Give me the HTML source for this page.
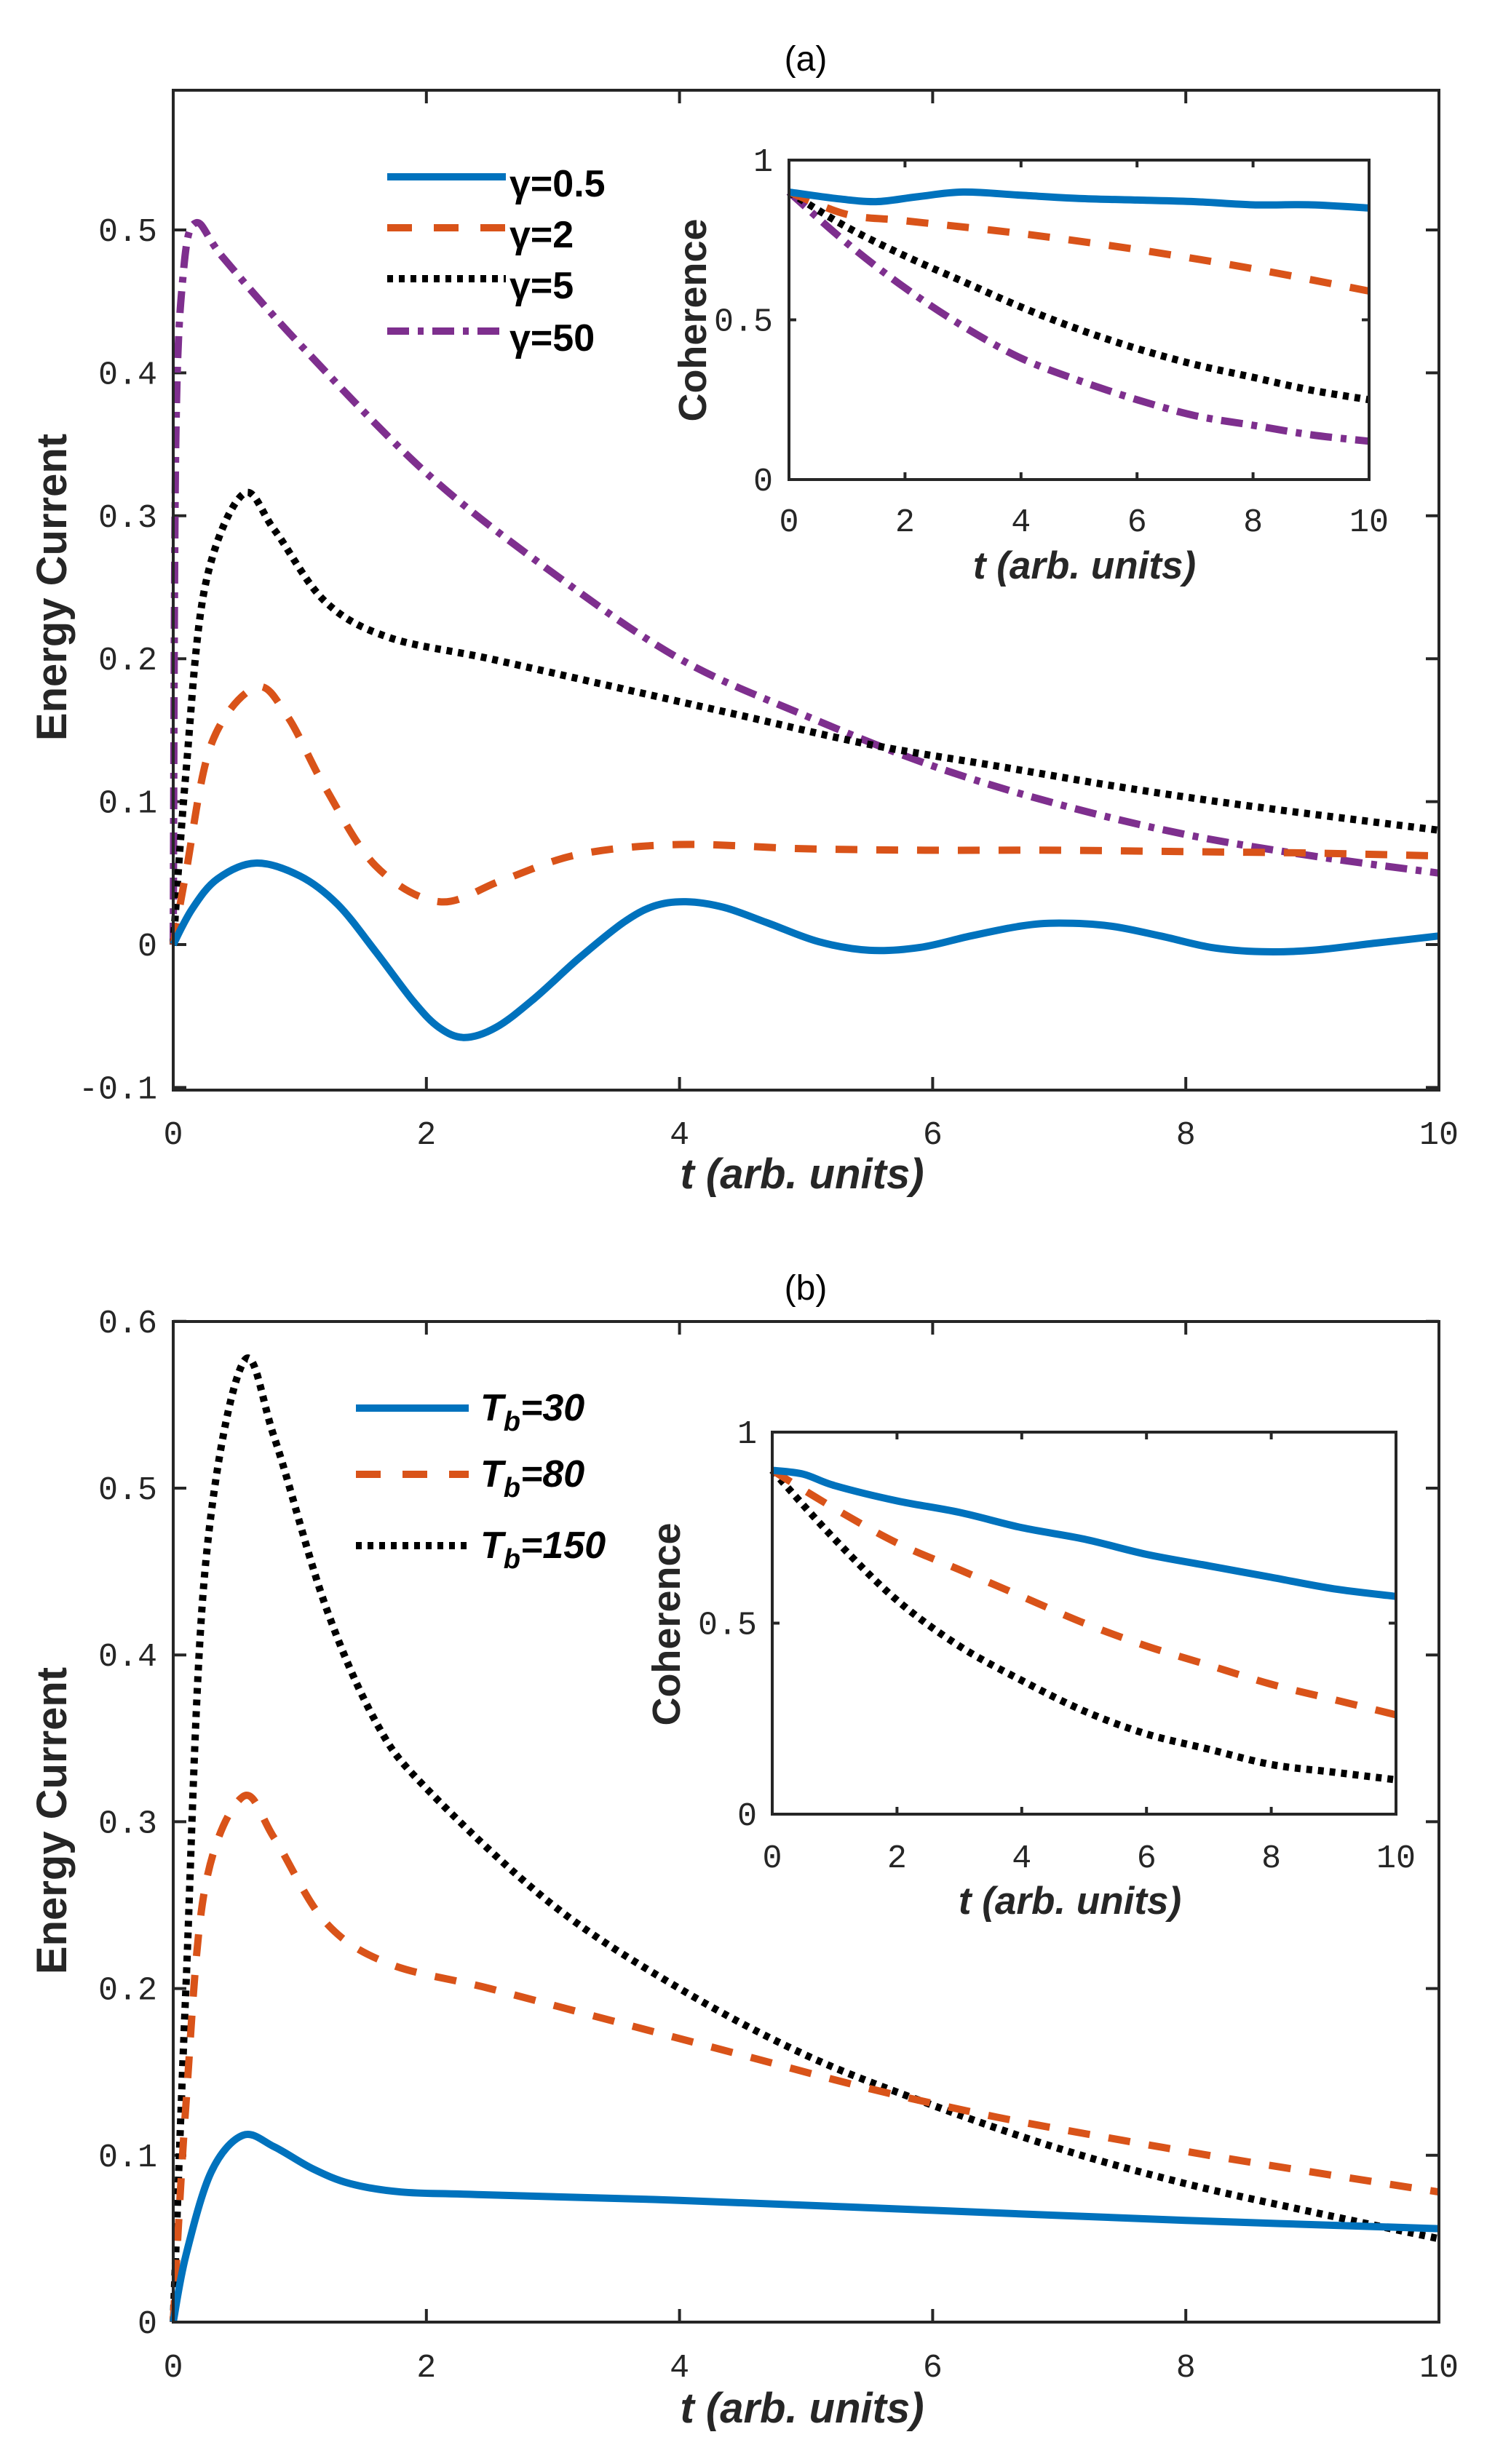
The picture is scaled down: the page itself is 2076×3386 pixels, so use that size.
<!DOCTYPE html>
<html><head><meta charset="utf-8">
<style>
html,body{margin:0;padding:0;background:#fff;}
svg{display:block;}
.tk{font-family:"Liberation Mono",monospace;font-size:45px;fill:#262626;}
.lab{font-family:"Liberation Sans",sans-serif;font-weight:bold;fill:#262626;}
.ttl{font-family:"Liberation Sans",sans-serif;font-size:48px;fill:#000;}
.leg{font-family:"Liberation Sans",sans-serif;font-weight:bold;font-size:52px;fill:#000;}
</style></head>
<body>
<svg id="s" width="2076" height="3386" viewBox="0 0 2076 3386" xmlns="http://www.w3.org/2000/svg">
<rect width="2076" height="3386" fill="#fff"/>
<text class="ttl" x="1107" y="97" text-anchor="middle">(a)</text>
<text class="ttl" x="1107" y="1786" text-anchor="middle">(b)</text>
<text class="lab" font-size="58" transform="translate(91,807) rotate(-90)" text-anchor="middle">Energy Current</text>
<text class="lab" font-size="58" transform="translate(91,2502) rotate(-90)" text-anchor="middle">Energy Current</text>
<text class="lab" font-size="58" font-style="italic" x="1102" y="1633" text-anchor="middle">t (arb. units)</text>
<text class="lab" font-size="58" font-style="italic" x="1102" y="3329" text-anchor="middle">t (arb. units)</text>
<text class="lab" font-size="53" font-style="italic" x="1490" y="795" text-anchor="middle">t (arb. units)</text>
<text class="lab" font-size="53" font-style="italic" x="1470" y="2630" text-anchor="middle">t (arb. units)</text>
<text class="lab" font-size="54" transform="translate(970,440) rotate(-90)" text-anchor="middle">Coherence</text>
<text class="lab" font-size="54" transform="translate(934,2232) rotate(-90)" text-anchor="middle">Coherence</text>
<g id="g"></g>
<line x1="532" y1="243" x2="695" y2="243" stroke="#0072BD" stroke-width="10"/>
<line x1="532" y1="313" x2="695" y2="313" stroke="#D95319" stroke-width="10" stroke-dasharray="34,30"/>
<line x1="532" y1="383" x2="695" y2="383" stroke="#000" stroke-width="10" stroke-dasharray="8,8"/>
<line x1="532" y1="455" x2="695" y2="455" stroke="#7E2F8E" stroke-width="10" stroke-dasharray="30,12,8,12"/>
<text class="leg" x="700" y="270">γ=0.5</text>
<text class="leg" x="700" y="340">γ=2</text>
<text class="leg" x="700" y="410">γ=5</text>
<text class="leg" x="700" y="482">γ=50</text>
<line x1="489" y1="1935" x2="644" y2="1935" stroke="#0072BD" stroke-width="10"/>
<line x1="489" y1="2026" x2="644" y2="2026" stroke="#D95319" stroke-width="10" stroke-dasharray="34,30"/>
<line x1="489" y1="2124" x2="644" y2="2124" stroke="#000" stroke-width="10" stroke-dasharray="8,8"/>
<text class="leg" font-style="italic" x="660" y="1952">T<tspan font-size="38" dy="14">b</tspan><tspan dy="-14">=30</tspan></text>
<text class="leg" font-style="italic" x="660" y="2043">T<tspan font-size="38" dy="14">b</tspan><tspan dy="-14">=80</tspan></text>
<text class="leg" font-style="italic" x="660" y="2141">T<tspan font-size="38" dy="14">b</tspan><tspan dy="-14">=150</tspan></text>
</svg>
<script>
var NS="http://www.w3.org/2000/svg",G=document.getElementById("g");
function el(n,a){var e=document.createElementNS(NS,n);for(var k in a)e.setAttribute(k,a[k]);G.appendChild(e);return e;}
function txt(x,y,s,anc,cls,fs){var e=el("text",{x:x,y:y,"text-anchor":anc||"middle","class":cls||"tk"});if(fs)e.setAttribute("font-size",fs);e.textContent=s;}
function path(pts,X,Y,col,dash,w){
 var P=pts.map(function(p){return [X(p[0]),Y(p[1])];});
 var d="M"+P[0][0].toFixed(1)+","+P[0][1].toFixed(1);
 for(var i=0;i<P.length-1;i++){
  var p0=P[i>0?i-1:0],p1=P[i],p2=P[i+1],p3=P[i+2<P.length?i+2:i+1];
  var c1=[p1[0]+(p2[0]-p0[0])/6,p1[1]+(p2[1]-p0[1])/6],c2=[p2[0]-(p3[0]-p1[0])/6,p2[1]-(p3[1]-p1[1])/6];
  d+="C"+c1[0].toFixed(1)+","+c1[1].toFixed(1)+" "+c2[0].toFixed(1)+","+c2[1].toFixed(1)+" "+p2[0].toFixed(1)+","+p2[1].toFixed(1);
 }
 var a={d:d,fill:"none",stroke:col,"stroke-width":w||10,"stroke-linejoin":"round"};
 if(dash)a["stroke-dasharray"]=dash;
 el("path",a);
}
var B="#0072BD",O="#D95319",K="#000",Pu="#7E2F8E",DA="30,26",DO="8,8",DD="30,12,8,12";
function axes(x0,x1,y0,y1){
 el("rect",{x:x0,y:y0,width:x1-x0,height:y1-y0,fill:"none",stroke:"#262626","stroke-width":4});
}
function ticksX(x0,x1,y0,y1,tl,ly,fs){
 for(var t=0;t<=10;t+=2){var x=x0+(x1-x0)*t/10;
  el("line",{x1:x,y1:y1,x2:x,y2:y1-tl,stroke:"#262626","stroke-width":4});
  el("line",{x1:x,y1:y0,x2:x,y2:y0+tl,stroke:"#262626","stroke-width":4});
  txt(x,ly,String(t),"middle","tk",fs);}
}
function ticksY(x0,x1,vals,Y,tl,lx,fs){
 vals.forEach(function(v){var y=Y(v[0]);
  el("line",{x1:x0,y1:y,x2:x0+tl,y2:y,stroke:"#262626","stroke-width":4});
  el("line",{x1:x1,y1:y,x2:x1-tl,y2:y,stroke:"#262626","stroke-width":4});
  txt(lx,y+15,v[1],"end","tk",fs);});
}
// Panel a
var XA=function(t){return 238+173.9*t;},YA=function(v){return 1298-1964*v;};
ticksX(238,1977,124,1498,18,1572,46);
ticksY(238,1977,[[-0.1,"-0.1"],[0,"0"],[0.1,"0.1"],[0.2,"0.2"],[0.3,"0.3"],[0.4,"0.4"],[0.5,"0.5"]],YA,18,216,46);
path([[0,0.0],[0.02,0.35],[0.08,0.47],[0.18,0.505],[0.4,0.48],[1,0.42],[2,0.33],[3,0.26],[4,0.2],[5,0.16],[6,0.125],[7,0.098],[8,0.077],[9,0.062],[10,0.05]],XA,YA,Pu,DD);
path([[0,0],[0.1,0.12],[0.25,0.25],[0.55,0.315],[0.8,0.29],[1.2,0.24],[1.7,0.215],[2.5,0.2],[3.5,0.18],[4.5,0.16],[5.5,0.14],[6.5,0.125],[7.5,0.11],[8.5,0.097],[10,0.08]],XA,YA,K,DO);
path([[0,0],[0.1,0.05],[0.3,0.14],[0.65,0.18],[0.9,0.16],[1.2,0.11],[1.6,0.055],[2.1,0.03],[2.6,0.045],[3.2,0.063],[4,0.07],[5,0.067],[6,0.066],[7,0.066],[8,0.065],[9,0.064],[10,0.062]],XA,YA,O,DA);
path([[0,0],[0.15,0.025],[0.35,0.046],[0.65,0.057],[1.0,0.048],[1.3,0.028],[1.6,-0.005],[1.9,-0.04],[2.1,-0.058],[2.3,-0.065],[2.55,-0.058],[2.85,-0.038],[3.2,-0.01],[3.55,0.015],[3.8,0.027],[4.05,0.03],[4.35,0.026],[4.7,0.015],[5.1,0.002],[5.5,-0.004],[5.9,-0.002],[6.3,0.006],[6.7,0.013],[7.0,0.015],[7.4,0.013],[7.8,0.006],[8.2,-0.002],[8.6,-0.005],[9.0,-0.004],[9.5,0.001],[10,0.006]],XA,YA,B);
axes(238,1977,124,1498);
// inset a
var XI=function(t){return 1084+79.7*t;},YI=function(v){return 659-439*v;};
el("rect",{x:1084,y:220,width:797,height:439,fill:"#fff"});
ticksX(1084,1881,220,659,10,730,46);
ticksY(1084,1881,[[0,"0"],[0.5,"0.5"],[1,"1"]],YI,10,1062,46);
path([[0,0.9],[1,0.74],[2,0.6],[3,0.48],[4,0.38],[5,0.31],[6,0.25],[7,0.2],[8,0.17],[9,0.14],[10,0.12]],XI,YI,Pu,DD);
path([[0,0.9],[1,0.79],[2,0.7],[3,0.62],[4,0.54],[5,0.47],[6,0.41],[7,0.36],[8,0.32],[9,0.28],[10,0.25]],XI,YI,K,DO);
path([[0,0.9],[1,0.83],[2,0.81],[4,0.77],[6,0.72],[8,0.66],[10,0.59]],XI,YI,O,DA);
path([[0,0.9],[0.8,0.88],[1.5,0.87],[2.2,0.885],[3,0.9],[4,0.89],[5,0.88],[6,0.875],[7,0.87],[8,0.86],[9,0.86],[10,0.85]],XI,YI,B);
axes(1084,1881,220,659);
// Panel b
var YB=function(v){return 3191-2292*v;};
ticksX(238,1977,1816,3191,18,3266,46);
ticksY(238,1977,[[0,"0"],[0.1,"0.1"],[0.2,"0.2"],[0.3,"0.3"],[0.4,"0.4"],[0.5,"0.5"],[0.6,"0.6"]],YB,18,216,46);
path([[0,0],[0.1,0.2],[0.25,0.45],[0.55,0.575],[0.8,0.53],[1.2,0.43],[1.6,0.36],[2,0.32],[3,0.25],[4,0.2],[5,0.16],[6,0.13],[7,0.104],[8,0.083],[9,0.066],[10,0.05]],XA,YB,K,DO);
path([[0,0],[0.1,0.13],[0.25,0.26],[0.55,0.315],[0.8,0.29],[1.2,0.24],[1.7,0.215],[2.5,0.2],[3.5,0.18],[4.5,0.16],[5.5,0.14],[6.5,0.123],[7.5,0.109],[8.5,0.096],[10,0.078]],XA,YB,O,DA);
path([[0,0],[0.1,0.04],[0.3,0.09],[0.55,0.112],[0.8,0.105],[1.1,0.092],[1.4,0.083],[1.8,0.078],[2.4,0.0765],[4,0.073],[6,0.067],[8,0.061],[10,0.056]],XA,YB,B);
axes(238,1977,1816,3191);
// inset b
var XJ=function(t){return 1061+85.7*t;},YJ=function(v){return 2493-525*v;};
el("rect",{x:1061,y:1968,width:857,height:525,fill:"#fff"});
ticksX(1061,1918,1968,2493,10,2566,46);
ticksY(1061,1918,[[0,"0"],[0.5,"0.5"],[1,"1"]],YJ,10,1040,46);
path([[0,0.9],[1,0.72],[2,0.56],[3,0.44],[4,0.35],[5,0.27],[6,0.21],[7,0.17],[8,0.13],[9,0.11],[10,0.09]],XJ,YJ,K,DO);
path([[0,0.9],[1,0.8],[2,0.71],[3,0.64],[4,0.57],[5,0.5],[6,0.44],[7,0.39],[8,0.34],[9,0.3],[10,0.26]],XJ,YJ,O,DA);
path([[0,0.9],[0.5,0.89],[1,0.86],[2,0.82],[3,0.79],[4,0.75],[5,0.72],[6,0.68],[7,0.65],[8,0.62],[9,0.59],[10,0.57]],XJ,YJ,B);
axes(1061,1918,1968,2493);
</script>
</body></html>
